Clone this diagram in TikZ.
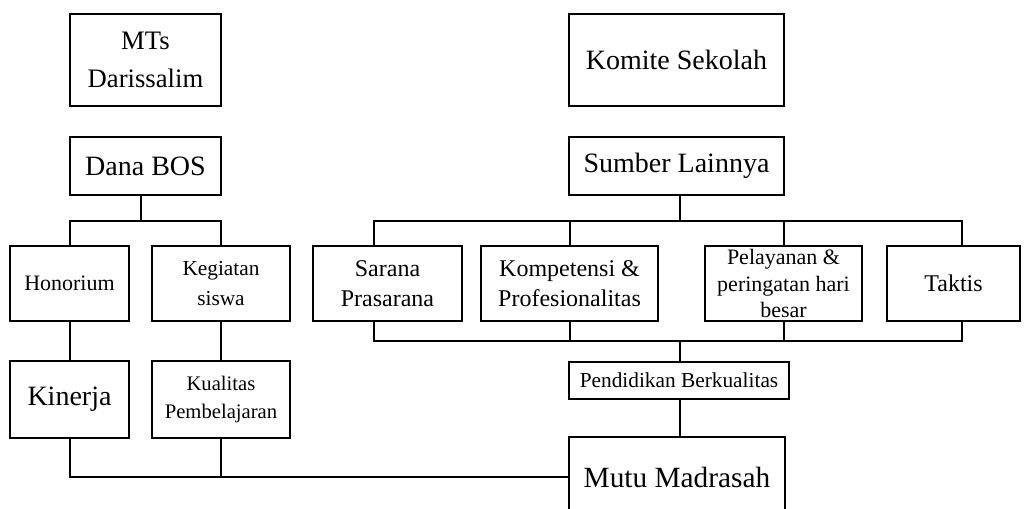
\documentclass[tikz,border=0pt]{standalone}
\usepackage{fontspec}
\setmainfont{Liberation Serif}
\begin{document}
\begin{tikzpicture}[x=0.75pt,y=-0.75pt,
  box/.style={draw, line width=1.5pt, inner sep=0pt, align=center},
  conn/.style={line width=1.5pt},
  big/.style={font=\fontsize{21}{27}\selectfont},
  mid/.style={font=\fontsize{18}{22.5}\selectfont},
  small/.style={font=\fontsize{15.5}{21}\selectfont}]
\useasboundingbox (0,0) rectangle (1027,509);
\clip (-2,-2) rectangle (1029,509);
% top row
\node[box, font=\fontsize{20}{28}\selectfont, minimum width=113.25pt, minimum height=69pt] (mts) at (145.5,60) {MTs\\Darissalim};
\node[box, big, minimum width=161.25pt, minimum height=69pt] (komite) at (676.5,60) {Komite Sekolah};
% second row
\node[box, big, minimum width=113.25pt, minimum height=43.5pt] (bos) at (145.5,166) {Dana BOS};
\node[box, big, minimum width=161.25pt, minimum height=43.5pt] (sumber) at (676.5,166) {Sumber Lainnya};
% third row
\node[box, font=\fontsize{16.5}{21}\selectfont, minimum width=89.25pt, minimum height=56.25pt] (honor) at (69.5,283.5) {Honorium};
\node[box, font=\fontsize{16}{22}\selectfont, minimum width=103.5pt, minimum height=56.25pt] (kegiatan) at (221,283.5) {Kegiatan\\siswa};
\node[box, mid, minimum width=111.75pt, minimum height=56.25pt] (sarana) at (387.5,283.5) {Sarana\\Prasarana};
\node[box, mid, minimum width=132.75pt, minimum height=56.25pt] (kompetensi) at (569.5,283.5) {Kompetensi \&\\Profesionalitas};
\node[box, font=\fontsize{16.5}{20}\selectfont, minimum width=117.75pt, minimum height=56.25pt] (pelayanan) at (783.5,283.5) {Pelayanan \&\\peringatan hari\\besar};
\node[box, font=\fontsize{18}{22}\selectfont, minimum width=99.75pt, minimum height=56.25pt] (taktis) at (953.5,283.5) {Taktis};
% fourth row
\node[box, big, minimum width=89.25pt, minimum height=57.75pt] (kinerja) at (69.5,399.5) {Kinerja};
\node[box, small, minimum width=103.5pt, minimum height=57.75pt] (kualitas) at (221,399.5) {Kualitas\\Pembelajaran};
\node[box, font=\fontsize{16}{21}\selectfont, minimum width=165pt, minimum height=27.75pt] (pendidikan) at (679,380.5) {Pendidikan Berkualitas};
\node[box, font=\fontsize{22}{27}\selectfont, minimum width=162pt, minimum height=60pt] (mutu) at (677,477) {Mutu Madrasah};
% left connectors
\coordinate (jb) at (141,221);
\draw[conn] (bos.south -| jb) -- (jb);
\draw[conn] (honor.north) |- (jb) -| (kegiatan.north);
\draw[conn] (honor.south) -- (kinerja.north);
\draw[conn] (kegiatan.south) -- (kualitas.north);
\draw[conn] (kinerja.south) |- (mutu.west);
\draw[conn] (kualitas.south) -- (kualitas.south |- mutu.west);
% right connectors
\coordinate (js) at (680,221);
\coordinate (rtl) at (374,221);
\coordinate (rtr) at (962,221);
\coordinate (rbl) at (374,341);
\coordinate (rbr) at (962,341);
\draw[conn] (sumber.south -| js) -- (js);
\draw[conn] (rtl |- sarana.north) -- (rtl) -- (rtr) -- (rtr |- taktis.north);
\draw[conn] (kompetensi.north) -- (kompetensi.north |- rtl);
\draw[conn] (pelayanan.north) -- (pelayanan.north |- rtl);
\draw[conn] (rbl |- sarana.south) -- (rbl) -- (rbr) -- (rbr |- taktis.south);
\draw[conn] (kompetensi.south) -- (kompetensi.south |- rbl);
\draw[conn] (pelayanan.south) -- (pelayanan.south |- rbl);
\draw[conn] (js |- rbl) -- (js |- pendidikan.north);
\draw[conn] (js |- pendidikan.south) -- (js |- mutu.north);
\end{tikzpicture}
\end{document}
